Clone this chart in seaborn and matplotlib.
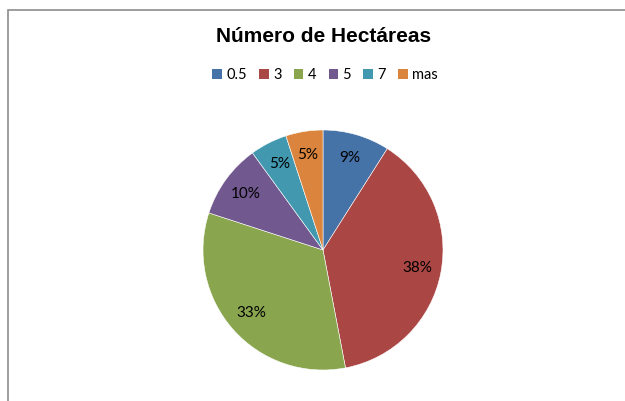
import matplotlib
matplotlib.use('Agg')
import matplotlib.pyplot as plt
import seaborn as sns
from matplotlib.patches import Rectangle, Patch

categories = ['0.5', '3', '4', '5', '7', 'mas']
percentages = [9, 38, 33, 10, 5, 5]
colors = ['#4572A7', '#AA4643', '#89A54E', '#71588F', '#4198AF', '#DB843D']

sns.set_theme(style='white')
plt.rcParams['font.family'] = ['Lato', 'DejaVu Sans']
plt.rcParams['text.color'] = 'black'
palette = sns.color_palette(colors)

fig = plt.figure(figsize=(6.25, 4.01), dpi=100)

# outer chart frame (Excel style, cut on the right and bottom)
fig.patches.append(Rectangle((8 / 625, -0.1), 1.2, (401 - 10) / 401 + 0.1,
                             transform=fig.transFigure, fill=False,
                             edgecolor='#8c8c8c', linewidth=1.2))

ax = fig.add_axes([(323 - 120) / 625, (401 - 250 - 120) / 401, 240 / 625, 240 / 401])
wedges, texts, autotexts = ax.pie(
    percentages, colors=palette, startangle=90, counterclock=False,
    autopct=lambda p: f'{p:.0f}%', pctdistance=0.8,
    wedgeprops=dict(edgecolor='white', linewidth=0.4),
    textprops=dict(fontsize=11, color='black'))
ax.set_xlim(-1, 1)
ax.set_ylim(-1, 1)
ax.set_aspect('equal')

fig.text(324 / 625, 1 - 37 / 401, 'Número de Hectáreas', ha='center', va='center',
         fontsize=15, fontweight='bold', family='Liberation Sans', color='black')

handles = [Patch(facecolor=c, edgecolor='none') for c in palette]
fig.legend(handles, categories, loc='center', bbox_to_anchor=(325 / 625, 1 - 75 / 401),
           ncol=6, frameon=False, fontsize=10.5, handlelength=0.65, handleheight=0.65,
           handletextpad=0.3, columnspacing=0.85, borderaxespad=0)

fig.savefig('out.png', dpi=100, facecolor='white')
